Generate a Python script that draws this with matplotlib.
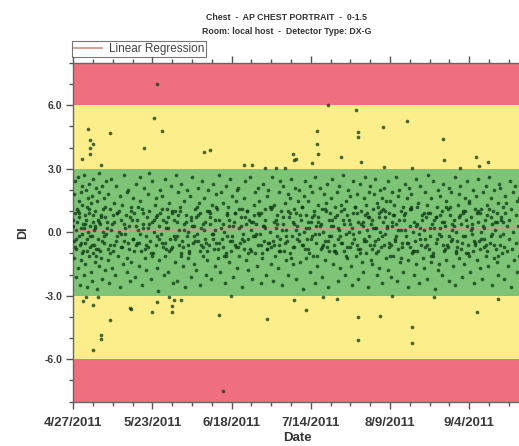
import datetime as dt
import numpy as np
import matplotlib
matplotlib.use("Agg")
import matplotlib.pyplot as plt
import matplotlib.dates as mdates
from matplotlib.ticker import FixedLocator, FuncFormatter, MultipleLocator

plt.rcParams['font.family'] = ['Liberation Sans', 'DejaVu Sans']

start = dt.datetime(2011, 4, 27)

# DI readings inside the +/-3 band, one list per day after 4/27/2011
di_by_day = [
    [0.3, -1.2, 1.8, -0.4, 2.4, 0.9, -2.1, 0.1],
    [-0.8, 1.1, 0.5, -1.7, 2.6, -0.2, 1.5],
    [0.7, -2.5, -0.6, 1.9, 0.2, -1.3, 2.2, -0.1],
    [1.3, -0.9, 0.4, -2.0, 2.7, -0.5, 0.8],
    [-1.5, 0.6, 2.0, -0.3, 1.2, -2.6, 0.0, 1.6],
    [0.9, -1.1, 2.3, -0.7, 0.3, -1.9, 1.4],
    [-0.2, 1.7, -2.3, 0.5, 2.5, -1.0, 0.1, -0.6],
    [1.0, -1.4, 0.2, 2.1, -0.8, 1.5, -2.7],
    [0.6, -0.3, 1.9, -1.6, 2.8, -0.9, 0.4],
    [-1.2, 0.8, 2.2, -2.2, 0.0, 1.1],
    [1.6, -0.5, 0.7, -1.8, 2.4, -0.1],
    [0.2, -1.3, 1.8, -2.4],
    [1.1, -0.6, 2.5, 0.4, -1.7],
    [-0.9, 0.5, 1.4, -2.0],
    [2.2, -0.2, 0.9, -1.1],
    [0.0, 1.7, -2.6, 0.6, -0.7],
    [1.3, -1.5, 2.7, -0.4],
    [-0.1, 0.8, -1.9, 1.9],
    [2.0, -0.8, 0.3, -2.3, 1.0],
    [-1.4, 0.6, 1.6, -0.3],
    [0.9, -2.1, 2.3, -0.6],
    [-0.5, 1.2, 0.1, -1.6, 2.6],
    [1.5, -0.9, -2.5, 0.4],
    [0.2, 2.1, -1.2, -0.2],
    [-1.8, 0.7, 1.8, -0.7, 2.8],
    [1.0, -0.4, -2.2, 0.5],
    [2.4, -1.0, 0.0, 1.3],
    [-0.6, 1.6, -1.7, 0.8, -2.8],
    [0.3, -1.3, 2.0, -0.1],
    [1.7, -0.5, 0.6, -2.0],
    [-1.1, 2.5, 0.2, -0.8, 1.1],
    [0.7, -1.9, 1.4, -0.3],
    [2.2, -0.7, 0.9, -2.4],
    [-0.2, 1.0, -1.4, 2.7],
    [0.5, -2.3, 1.9, -0.6, 0.1],
    [1.2, -1.0, 2.3, -0.4],
    [-1.6, 0.4, 1.5, -2.6],
    [0.8, -0.2, 2.0, -1.2, 0.0],
    [-0.9, 1.7, -2.1, 0.6],
    [2.6, -0.5, 0.3, -1.5],
    [1.1, -1.8, 0.7, -0.1, 2.1],
    [-0.4, 1.4, -2.5, 0.9],
    [0.2, 2.4, -1.1, -0.7],
    [1.6, -0.3, 0.5, -2.0, 1.0],
    [-1.3, 2.0, -0.6, 0.4],
    [0.9, -2.2, 1.3, -0.1],
    [2.3, -0.8, 0.1, -1.6, 1.8],
    [-0.5, 1.1, -1.2, 2.7],
    [0.6, -1.9, 1.9, -0.3],
    [1.4, -0.7, 0.0, -2.4],
    [-1.0, 2.2, 0.8, -0.2, 1.2],
    [0.3, -1.4, 2.5, -0.9],
    [1.7, -0.4, -2.1, 0.5],
    [-0.6, 0.9, 1.5, -1.7, 2.0],
    [2.1, -1.1, 0.2, -0.5],
    [0.7, -2.6, 1.1, -0.1],
    [-0.8, 1.6, 2.4, -1.3, 0.4],
    [1.0, -0.3, -1.8, 0.6],
    [2.6, -0.9, 0.1, -2.2],
    [-0.2, 1.3, 0.8, -1.0, 1.9],
    [0.4, -1.6, 2.1, -0.6],
    [1.5, -0.1, -2.4, 0.9],
    [-1.2, 2.3, 0.3, -0.4, 1.1],
    [0.6, -2.0, 1.7, -0.8],
    [2.0, -0.5, 0.0, -1.5],
    [-0.7, 1.2, 2.6, -2.3, 0.5],
    [1.3, -1.1, 0.2, -0.2],
    [0.8, -1.7, 1.9, -0.6, 2.4],
    [-0.3, 1.0, -2.5, 0.4],
    [2.2, -0.9, 1.4, -1.3],
    [0.1, -0.4, 1.8, -2.0, 0.7],
    [1.6, -1.0, 2.5, -0.2],
    [-1.5, 0.5, 1.1, -0.7, 2.1],
    [0.9, -2.2, 0.3, 1.5],
    [-0.1, 2.0, -1.4, 0.6],
    [1.2, -0.6, -2.7, 0.0, 1.7],
    [2.4, -1.2, 0.8, -0.3],
    [-0.8, 1.5, 0.2, -1.9, 2.2],
    [0.5, -0.2, 1.9, -1.1],
    [1.0, -2.4, 2.6, -0.5, 0.3],
    [-1.6, 0.7, 1.3, -0.1],
    [2.1, -0.8, 0.4, -2.1, 1.1],
    [0.0, 1.8, -1.3, -0.4],
    [1.4, -0.7, 2.3, -2.6, 0.6],
    [-0.9, 0.9, -0.2, 1.6],
    [2.5, -1.5, 0.3, -0.6, 1.2],
    [0.7, -1.0, 1.9, -2.3],
    [-0.3, 2.2, 0.1, -1.7, 1.0],
    [1.3, -0.5, 2.7, -0.9],
    [0.4, -2.0, 1.5, -0.1, 0.8],
    [-1.2, 2.0, 0.6, -0.7],
    [1.7, -1.6, 0.2, -2.5, 2.4],
    [0.9, -0.3, 1.2, -1.1],
    [-0.6, 1.8, -2.2, 0.5, 0.0],
    [2.3, -0.8, 1.0, -1.4],
    [0.3, -1.9, 1.6, -0.4, 2.6, 0.8],
    [-1.0, 1.3, 0.1, -2.6, 0.7],
    [1.9, -0.2, 2.2, -1.3, 0.4],
    [0.6, -1.5, 1.1, -0.6, 1.8],
    [-0.4, 2.5, 0.2, -2.0, 1.4],
    [1.2, -0.9, 0.9, -1.7, 0.0, 2.0],
    [-0.7, 1.6, -2.4, 0.5, 1.1],
    [2.1, -0.1, 0.7, -1.2, 1.5],
    [0.2, -1.8, 2.4, -0.5, 0.9],
    [1.5, -0.6, -2.1, 0.3, 1.9],
    [-1.1, 0.8, 1.3, -0.3, 2.6],
    [0.4, -2.3, 1.7, -0.8],
    [2.0, -1.4, 0.1, 1.0],
    [-0.5, 1.2, -1.9, 0.6, 2.3],
    [0.9, -0.2, 1.6, -2.6],
    [-1.3, 2.1, 0.3, -0.7, 1.1],
    [1.8, -1.0, 0.0, -2.0],
    [0.5, -0.4, 2.5, -1.5, 1.2],
    [-0.9, 1.4, -2.4, 0.2],
    [2.2, -0.6, 0.8, -1.2],
    [0.1, -1.7, 1.9, -0.3, 0.7],
    [1.3, -2.2, 2.7, -0.8],
    [-0.2, 0.9, -1.4, 1.6, 0.4],
    [2.4, -1.1, 0.6, -2.7],
    [0.7, -0.5, 1.2, -1.8, 2.0],
    [-1.5, 1.7, 0.2, -0.2],
    [1.0, -2.0, 2.3, -0.9, 0.5],
    [0.3, -1.3, 1.5, -0.6],
    [-0.7, 2.1, -2.3, 0.8, 1.2],
    [1.9, -0.3, 0.1, -1.6],
    [0.6, -2.5, 2.6, -1.0, 0.0],
    [-0.4, 1.3, -1.2, 1.8],
    [2.2, -0.8, 0.4, -2.1, 1.0],
    [0.9, -1.5, 1.6, -0.2],
    [-1.0, 2.4, 0.3, -0.6, 1.4],
    [1.5, -1.9, 0.7, -0.1],
    [0.2, -0.9, 2.0, -2.4, 1.1],
    [-0.6, 1.7, -1.3, 0.5],
    [2.5, -0.4, 0.9, -1.7, 0.0],
    [1.1, -2.2, 1.9, -0.7],
    [-0.3, 0.6, -1.1, 2.2, 1.3],
    [0.8, -1.6, 2.6, -0.5],
    [1.6, -0.2, -2.5, 0.4, 1.0],
    [-1.2, 2.0, 0.1, -0.8],
    [0.5, -1.4, 1.4, -2.0, 2.3],
    [2.1, -0.6, 0.7, -1.0],
    [-0.1, 1.2, -2.2, 0.9, 1.7],
    [1.4, -0.9, 0.3, -1.6],
    [0.6, -0.3, 2.4, -2.6, 1.1],
    [-0.8, 1.9, 0.0, -1.3],
    [2.2, -0.5, 0.8, -1.9, 1.5],
    [0.3, -1.1, 1.6, -0.4],
]

# extra readings close to zero, two per day, same day numbering
di_core = [
    [0.6, -0.7], [-0.3, 1.0], [0.9, -0.5], [-1.0, 0.2], [0.4, -0.9],
    [1.1, -0.2], [-0.6, 0.8], [0.3, -1.1], [-0.8, 0.5], [0.7, -0.4],
    [-0.2, 1.2], [0.5, -0.8], [-1.0, 0.1], [0.8, -0.6], [-0.4, 0.9],
    [1.0, -0.1], [-0.7, 0.4], [0.2, -1.2], [-0.5, 0.7], [1.2, -0.3],
    [-0.9, 0.3], [0.6, -0.5], [-0.1, 1.1], [0.9, -0.8], [-0.6, 0.2],
    [0.4, -1.0], [-1.1, 0.6], [0.7, -0.2], [-0.3, 0.9], [1.1, -0.7],
    [-0.5, 0.5], [0.2, -0.9], [-0.8, 1.0], [0.6, -0.3], [-0.2, 0.8],
    [1.0, -1.1], [-0.7, 0.1], [0.5, -0.6], [-1.0, 0.7], [0.3, -0.2],
    [-0.4, 1.2], [0.8, -0.9], [-0.6, 0.4], [0.1, -0.5], [-0.9, 1.0],
    [0.7, -0.1], [-0.3, 0.6], [1.2, -0.8], [-0.5, 0.2], [0.4, -1.1],
    [-1.1, 0.9], [0.6, -0.4], [-0.2, 0.3], [0.9, -0.7], [-0.7, 1.1],
    [0.3, -0.3], [-0.4, 0.7], [1.0, -1.0], [-0.8, 0.5], [0.5, -0.2],
    [-0.1, 0.9], [0.8, -0.6], [-1.0, 0.3], [0.2, -0.8], [-0.5, 1.2],
    [1.1, -0.4], [-0.6, 0.6], [0.4, -0.9], [-0.9, 0.1], [0.7, -0.5],
    [-0.2, 1.0], [0.9, -1.2], [-0.7, 0.4], [0.1, -0.3], [-0.4, 0.8],
    [1.2, -0.6], [-0.8, 0.2], [0.5, -1.0], [-0.3, 0.7], [0.8, -0.1],
    [-1.1, 0.5], [0.3, -0.7], [-0.6, 1.1], [1.0, -0.4], [-0.2, 0.3],
    [0.6, -0.9], [-0.9, 0.8], [0.2, -0.2], [-0.5, 0.6], [1.1, -1.1],
    [-0.7, 0.0], [0.4, -0.5], [-0.1, 1.2], [0.9, -0.8], [-1.0, 0.4],
    [0.5, -0.3], [-0.4, 0.9], [0.7, -0.6], [-0.8, 0.2], [0.2, -1.0],
    [-0.3, 0.7], [1.0, -0.2], [-0.6, 1.0], [0.3, -0.7], [-1.1, 0.5],
    [0.8, -0.4], [-0.2, 0.1], [0.6, -1.2], [-0.7, 0.8], [0.1, -0.5],
    [-0.5, 1.1], [1.2, -0.9], [-0.9, 0.3], [0.4, -0.1], [-0.3, 0.6],
    [0.9, -0.7], [-0.6, 0.9], [0.2, -1.1], [-1.0, 0.2], [0.7, -0.3],
    [-0.1, 0.8], [0.5, -0.6], [-0.8, 1.2], [1.1, -0.2], [-0.4, 0.4],
    [0.3, -0.9], [-0.7, 0.7], [0.8, -0.5], [-0.2, 1.0], [0.6, -1.0],
    [-1.1, 0.1], [0.4, -0.4], [-0.5, 0.9], [1.0, -0.8], [-0.3, 0.3],
    [0.2, -0.6], [-0.9, 1.1], [0.7, -0.1], [-0.6, 0.5], [0.9, -1.1],
    [-0.2, 0.6], [0.5, -0.7],
]

# readings outside the +/-3 band
out_day = [27.4, 26.6, 29.1, 23.3, 12.1, 4.7, 5.5, 6.4, 5.6, 5.5, 2.8, 9.0,
           42.9, 44.9, 56.0, 58.6, 62.9, 66.4, 69.5, 72.1, 72.5, 73.1,
           83.7, 92.7, 109.5, 101.6, 79.9, 93.4, 93.4, 79.9, 80.2, 87.8,
           78.3, 94.4, 102.1, 121.5, 121.7, 132.2, 136.2, 133.2, 127.0, 111.3,
           3.3, 6.4, 4.2, 8.0, 18.7, 19.0, 12.1, 9.0, 9.0, 6.4, 25.7, 27.5,
           32.4, 32.4, 33.2, 35.4, 31.5, 51.9, 72.5, 47.8, 63.7, 49.2,
           81.9, 86.7, 104.5, 76.4, 93.4, 100.7, 93.4, 118.5, 139.3, 132.4,
           111.3, 111.3]
out_di = [7.0, 5.39, 4.77, 3.98, 4.69, 4.89, 4.37, 4.19, 3.98, 3.72, 3.47, 3.17,
          3.78, 3.88, 3.16, 3.2, 3.06, 3.05, 3.05, 3.72, 3.41, 3.45,
          6.02, 5.78, 5.28, 4.97, 4.8, 4.72, 4.5, 4.19, 3.72, 3.55,
          3.28, 3.33, 3.08, 4.41, 3.41, 3.58, 3.33, 3.11, 3.02, 3.05,
          -3.27, -3.42, -3.05, -3.05, -3.58, -3.65, -4.13, -4.88, -5.03, -5.58, -3.78, -3.3,
          -3.47, -3.78, -3.19, -3.19, -3.05, -3.03, -3.19, -3.92, -4.08, -7.52,
          -3.08, -3.16, -3.02, -3.69, -4.0, -3.94, -5.11, -3.08, -3.16, -3.78,
          -4.49, -5.25]

days, vals = [], []
for table in (di_by_day, di_core):
    for d, row in enumerate(table):
        # spread a day's readings over the day instead of stacking them
        for i, v in enumerate(row):
            days.append(d + i / len(row))
            vals.append(v)
days = np.array(days + out_day, dtype=float)
vals = np.array(vals + out_di)

t0 = mdates.date2num(start)
x = t0 + days

fig = plt.figure(figsize=(5.19, 4.46), dpi=100)
ax = fig.add_axes([73.3 / 519, 44.5 / 446, (521 - 73.3) / 519, 338.5 / 446])

x0, x1 = t0, t0 + 147.0
ax.axhspan(6, 8, color="#ef6f7f", lw=0)
ax.axhspan(3, 6, color="#fcee8a", lw=0)
ax.axhspan(-3, 3, color="#7dc476", lw=0)
ax.axhspan(-6, -3, color="#fcee8a", lw=0)
ax.axhspan(-8, -6, color="#ef6f7f", lw=0)

ax.scatter(x, vals, s=7, color="#0c3814", alpha=0.75, lw=0, zorder=3)

slope, icpt = np.polyfit(days, vals, 1)
xx = np.array([0, 147.0])
ax.plot(t0 + xx, icpt + slope * xx, color="#cf9a8e", lw=1.3, zorder=2,
        label="Linear Regression")

ax.set_xlim(x0, x1)
ax.set_ylim(-8, 8)

ax.xaxis.set_major_locator(FixedLocator([t0 + 26 * k for k in range(6)]))
ax.xaxis.set_minor_locator(FixedLocator([t0 + 6.5 * k for k in range(23)]))
ax.xaxis.set_major_formatter(FuncFormatter(
    lambda v, p: "%d/%d/%d" % (mdates.num2date(v).month, mdates.num2date(v).day,
                               mdates.num2date(v).year)))
ax.yaxis.set_major_locator(MultipleLocator(3))
ax.yaxis.set_minor_locator(MultipleLocator(1))
ax.yaxis.set_major_formatter(FuncFormatter(lambda v, p: "%.1f" % v))

ax.tick_params(axis="x", which="major", length=5, width=1, color="#555555",
               labelsize=9.5, pad=6, top=True)
ax.tick_params(axis="x", which="minor", length=3, width=1, color="#555555", top=True)
ax.tick_params(axis="y", which="major", length=5, width=1, color="#555555",
               labelsize=7.5, pad=3)
ax.tick_params(axis="y", which="minor", length=3, width=1, color="#555555")
for lab in ax.get_xticklabels() + ax.get_yticklabels():
    lab.set_fontweight("bold")
    lab.set_color("#3a3a3a")

for s in ["left", "bottom", "top"]:
    ax.spines[s].set_color("#666666")
    ax.spines[s].set_linewidth(1)
ax.spines["right"].set_visible(False)

ax.set_xlabel("Date", fontsize=9.5, fontweight="bold", color="#333333", labelpad=2)
ax.set_ylabel("DI", fontsize=9, fontweight="bold", color="#333333", labelpad=11)

fig.text(287 / 519, 1 - 18 / 446, "Chest  -  AP CHEST PORTRAIT  -  0-1.5",
         ha="center", va="center", fontsize=6.3, fontweight="bold", color="#333333")
fig.text(287 / 519, 1 - 31 / 446, "Room: local host  -  Detector Type: DX-G",
         ha="center", va="center", fontsize=6.3, fontweight="bold", color="#333333")

leg = ax.legend(loc="lower left", bbox_to_anchor=(72 / 519, 1 - 57 / 446),
                bbox_transform=fig.transFigure, fontsize=8.5, frameon=True,
                fancybox=False, borderpad=0.15, handlelength=2.4,
                handletextpad=0.6, borderaxespad=0)
leg.get_frame().set_edgecolor("#555555")
leg.get_frame().set_linewidth(0.8)
for t in leg.get_texts():
    t.set_color("#444444")

fig.savefig("out.png", dpi=100)
